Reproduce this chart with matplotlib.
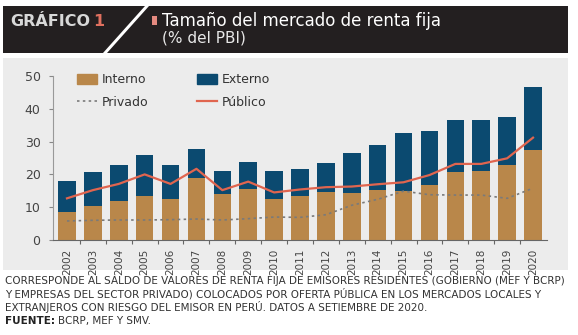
import matplotlib
matplotlib.use('Agg')
import numpy as np
import matplotlib.pyplot as plt
from matplotlib.patches import Rectangle, Polygon
from matplotlib.lines import Line2D

anni = [str(a) for a in range(2002, 2021)]
interno = [8.5, 10.4, 11.9, 13.4, 12.5, 18.9, 13.9, 15.7, 12.6, 13.4,
           14.6, 14.4, 15.2, 14.9, 16.8, 20.6, 20.9, 22.8, 27.4]
totale = [18.1, 20.8, 22.8, 25.9, 22.8, 27.8, 20.9, 23.9, 21.1, 21.6,
          23.4, 26.4, 29.0, 32.5, 33.3, 36.6, 36.6, 37.6, 46.7]
externo = [t - i for t, i in zip(totale, interno)]
publico = [12.7, 15.2, 17.1, 20.0, 17.1, 21.7, 15.2, 17.8, 14.5, 15.4,
           16.1, 16.3, 17.0, 17.6, 19.8, 23.2, 23.2, 24.9, 31.2]
privado = [5.8, 6.0, 6.1, 6.1, 6.2, 6.4, 6.1, 6.5, 7.0, 6.9,
           7.7, 10.6, 12.4, 14.9, 13.8, 13.7, 13.7, 12.7, 15.8]

nota = ("CORRESPONDE AL SALDO DE VALORES DE RENTA FIJA DE EMISORES RESIDENTES (GOBIERNO (MEF Y BCRP)\n"
        "Y EMPRESAS DEL SECTOR PRIVADO) COLOCADOS POR OFERTA PÚBLICA EN LOS MERCADOS LOCALES Y\n"
        "EXTRANJEROS CON RIESGO DEL EMISOR EN PERÚ. DATOS A SETIEMBRE DE 2020.")

col_int = '#b9874a'
col_ext = '#0b4a70'
col_pub = '#e0654f'
col_priv = '#7a7a7a'
narrow = ['Liberation Sans Narrow', 'DejaVu Sans']

W, H = 578, 335
fig = plt.figure(figsize=(W / 100, H / 100), dpi=100)
fig.patch.set_facecolor('white')

def px(x, y):
    # pixel -> figure coords
    return x / W, 1 - y / H

# pannello grigio e testata scura (sotto gli assi)
fig.patches.append(Rectangle(px(3, 270), 565 / W, 212 / H, transform=fig.transFigure,
                             facecolor='#ececec', edgecolor='none', zorder=-3))
fig.patches.append(Rectangle(px(3, 53), 565 / W, 47 / H, transform=fig.transFigure,
                             facecolor='#231f20', edgecolor='none', zorder=-3))
fig.patches.append(Polygon([px(145, 6), px(149, 6), px(107, 53), px(103, 53)], closed=True,
                           transform=fig.transFigure, facecolor='white', edgecolor='none', zorder=-2))
fig.patches.append(Rectangle(px(152, 25), 5 / W, 9 / H, transform=fig.transFigure,
                             facecolor='#e58a80', edgecolor='none', zorder=-2))
fig.text(*px(10, 22), 'GRÁFICO', color='#d8d8d8', fontsize=11.5, fontweight='bold', va='center')
fig.text(*px(93, 22), '1', color='#e0705f', fontsize=11.5, fontweight='bold', va='center')
fig.text(*px(162, 21), 'Tamaño del mercado de renta fija', color='white', fontsize=12, va='center')
fig.text(*px(162, 38), '(% del PBI)', color='#e8e8e8', fontsize=11, va='center')

ax = fig.add_axes([53 / W, 1 - 240 / H, (547 - 53) / W, (240 - 76) / H])
ax.set_facecolor('none')
ax.set_zorder(1)
x = np.arange(len(anni))
ax.bar(x, interno, width=0.68, color=col_int, zorder=2)
ax.bar(x, externo, width=0.68, bottom=interno, color=col_ext, zorder=2)
ax.plot(x, privado, color=col_priv, lw=1.2, ls=(0, (1.5, 2)), zorder=3)
ax.plot(x, publico, color=col_pub, lw=1.6, zorder=3)

ax.set_xlim(-0.54, len(anni) - 0.46)
ax.set_ylim(0, 50)
ax.set_yticks(range(0, 51, 10))
ax.set_xticks(x)
ax.set_xticklabels(anni, rotation=90, fontsize=7.5, color='#444444', family=narrow)
ax.set_xticks(x[:-1] + 0.5, minor=True)
ax.tick_params(axis='x', which='major', length=0, pad=6)
ax.tick_params(axis='x', which='minor', length=3, color='#666666', width=0.8)
ax.tick_params(axis='y', length=3, color='#888888', labelsize=9, labelcolor='#444444', pad=6)
for s in ['top', 'right']:
    ax.spines[s].set_visible(False)
ax.spines['left'].set_color('#999999')
ax.spines['bottom'].set_color('#666666')

# ordine per colonne: Interno, Privado | Externo, Publico
maniglie = [Rectangle((0, 0), 1, 1, color=col_int),
            Line2D([], [], color=col_priv, lw=1.2, ls=(0, (1.5, 2))),
            Rectangle((0, 0), 1, 1, color=col_ext),
            Line2D([], [], color=col_pub, lw=1.6)]
leg = ax.legend(maniglie, ['Interno', 'Privado', 'Externo', 'Público'], ncol=2,
                loc='upper left', bbox_to_anchor=(0.025, 1.085), frameon=False, fontsize=9,
                handlelength=1.6, handleheight=0.9, columnspacing=3.9, labelspacing=0.75,
                handletextpad=0.4)
for t in leg.get_texts():
    t.set_color('#333333')

fig.text(*px(5, 276), nota, fontsize=7.5, color='#333333', va='top', family=narrow,
         linespacing=1.2)
fu = fig.text(*px(5, 321), 'FUENTE:', fontsize=7.5, color='#222222', va='center', fontweight='bold')
fig.canvas.draw()
bb = fu.get_window_extent()
fig.text(bb.x1 / W + 3 / W, 1 - 321 / H, 'BCRP, MEF Y SMV.', fontsize=7.5, color='#333333',
         va='center', family=narrow)

fig.savefig('out.png', dpi=100)
